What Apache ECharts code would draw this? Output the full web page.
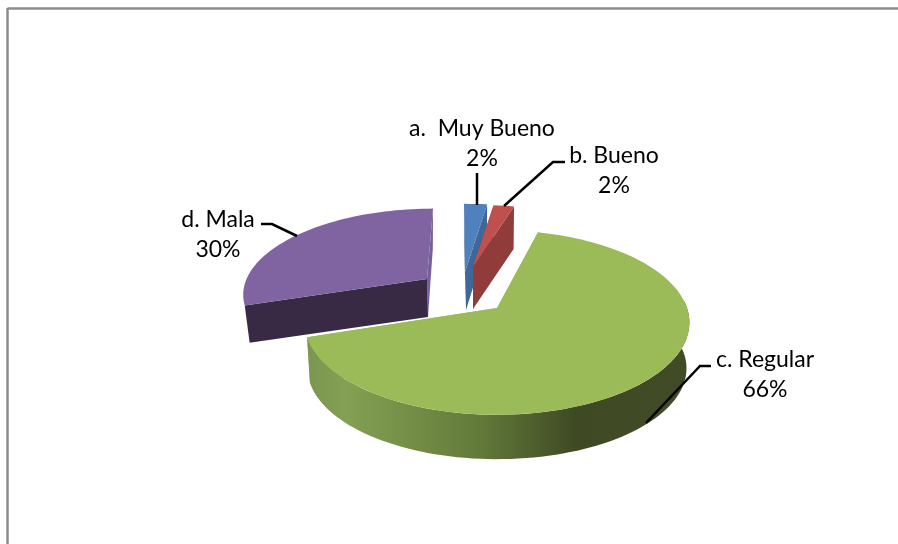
<!DOCTYPE html>
<html>
<head>
<meta charset="utf-8">
<style>
  html, body { margin: 0; padding: 0; background: #fff; }
  #chart { width: 898px; height: 544px; }
</style>
<script src="https://cdn.jsdelivr.net/npm/echarts@6/dist/echarts.min.js"></script>
</head>
<body>
<div id="chart"></div>
<script>
// datos
var categories = ['a.  Muy Bueno', 'b. Bueno', 'c. Regular', 'd. Mala'];
var percents = [2, 2, 66, 30];

// estilo de cada sector (pie 3D en perspectiva, ECharts no lo trae)
var topColors = ['#4f81bd', '#c0504d', '#9bbb59', '#8064a2'];
var startCutColors = ['#3f6797', '#8f3c3a', '#9bbb59', '#382a44'];
var endCutColors = ['#3f6797', '#8f3c3a', '#9bbb59', '#76609a'];
var sliceStyle = [
  { cx: 465, cy: 272, sx: 1.12, sy: 0.876, depth: 38, f: 0.99, shear: -1, z: 3 },
  { cx: 473, cy: 267, sx: 1.0, sy: 0.8, depth: 42, f: 0.99, shear: 0, z: 4 },
  { cx: 497, cy: 308, sx: 1, sy: 1, depth: 46, f: 0.985, shear: 0, z: 1 },
  { cx: 427, cy: 279, sx: 0.95, sy: 0.905, depth: 38, f: 0.973, shear: 6, z: 2 }
];
var labelStyle = [
  { x: 482, y: 144, line: [[477, 173], [477, 205]] },
  { x: 614, y: 171, line: [[565, 162], [553, 162], [504, 206]] },
  { x: 765, y: 375, line: [[711, 366], [700, 366], [646, 423]] },
  { x: 218, y: 235, line: [[261, 224], [272, 224], [297, 236]] }
];
var RX = 190, RY = 90, K = 0.157;

var total = percents.reduce(function (a, b) { return a + b; }, 0);

function project(s, deg, dropDepth) {
  var t = deg * Math.PI / 180;
  var v = Math.sin(t), u = -Math.cos(t);
  var p = 1 / (1 - K * u);
  var f = dropDepth ? s.f : 1;
  return [
    s.cx + f * (RX * s.sx * v * p - s.shear * u),
    s.cy + (dropDepth ? s.depth : 0) + f * RY * s.sy * u * p
  ];
}

function arc(s, from, to, dropDepth) {
  var pts = [];
  var n = Math.max(2, Math.ceil(Math.abs(to - from) / 2));
  for (var i = 0; i <= n; i++) {
    pts.push(project(s, from + (to - from) * i / n, dropDepth));
  }
  return pts;
}

function poly(points, fill, z2) {
  return {
    type: 'polygon',
    z2: z2,
    shape: { points: points },
    style: { fill: fill }
  };
}

function renderSlice(params, api) {
  var i = params.dataIndex;
  var s = sliceStyle[i];
  var start = 0;
  for (var j = 0; j < i; j++) start += percents[j];
  var a0 = start / total * 360;
  var a1 = (start + api.value(0)) / total * 360;
  var base = s.z * 10;
  var apex = [s.cx, s.cy];
  var apexLow = [s.cx + (s.shear ? 1 : 0), s.cy + s.depth];

  var children = [
    // caras de corte
    poly([apex, project(s, a1, false), project(s, a1, true), apexLow], endCutColors[i], base + 1),
    poly([apex, project(s, a0, false), project(s, a0, true), apexLow], startCutColors[i], base + 2)
  ];
  if (i === 2) {
    // pared exterior del sector grande, de claro a oscuro
    var side = new echarts.graphic.LinearGradient(308, 0, 690, 0, [
      { offset: 0, color: '#7b9650' },
      { offset: 0.1, color: '#84a054' },
      { offset: 0.45, color: '#627a39' },
      { offset: 0.7, color: '#3f4a24' },
      { offset: 1, color: '#414c26' }
    ], true);
    children.push(poly(arc(s, 85, a1, false).concat(arc(s, a1, 85, true)), side, base + 3));
  }
  // cara superior
  children.push(poly([apex].concat(arc(s, a0, a1, false)), topColors[i], base + 5));
  return { type: 'group', children: children };
}

function renderLabel(params, api) {
  var i = params.dataIndex;
  var l = labelStyle[i];
  return {
    type: 'group',
    children: [
      {
        type: 'polyline',
        shape: { points: l.line },
        style: { stroke: '#000', lineWidth: 2.5, fill: null }
      },
      {
        type: 'text',
        x: l.x,
        y: l.y,
        style: {
          text: categories[i] + '\n' + api.value(0) + '%',
          fontFamily: 'Lato',
          fontSize: 23,
          lineHeight: 30,
          fill: '#000',
          align: 'center',
          verticalAlign: 'middle'
        }
      }
    ]
  };
}

var chart = echarts.init(document.getElementById('chart'), null, { renderer: 'canvas' });
chart.setOption({
  animation: false,
  backgroundColor: '#fff',
  graphic: [
    // marco del gráfico, sólo se ven arriba e izquierda
    { type: 'line', shape: { x1: 7.5, y1: 8.5, x2: 898, y2: 8.5 }, style: { stroke: '#8c8c8c', lineWidth: 2.5 } },
    { type: 'line', shape: { x1: 7.5, y1: 8, x2: 7.5, y2: 544 }, style: { stroke: '#8c8c8c', lineWidth: 2.5 } }
  ],
  series: [
    {
      type: 'custom',
      coordinateSystem: 'none',
      silent: true,
      renderItem: renderSlice,
      data: percents.map(function (v) { return [v]; })
    },
    {
      type: 'custom',
      coordinateSystem: 'none',
      silent: true,
      z: 5,
      renderItem: renderLabel,
      data: percents.map(function (v) { return [v]; })
    }
  ]
});
</script>
</body>
</html>
